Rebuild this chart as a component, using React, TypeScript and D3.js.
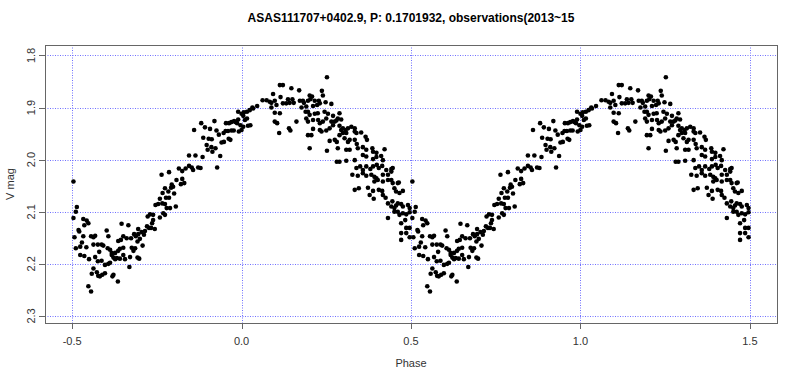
import React from "react";
import * as d3 from "d3";

const TITLE = "ASAS111707+0402.9, P: 0.1701932, observations(2013~15";
const X_LABEL = "Phase";
const Y_LABEL = "V mag";

const xTicks = [-0.5, 0, 0.5, 1, 1.5];
const xTickLabels = ["-0.5", "0.0", "0.5", "1.0", "1.5"];
const yTicks = [1.8, 1.9, 2.0, 2.1, 2.2, 2.3];
const yTickLabels = ["1.8", "1.9", "2.0", "2.1", "2.2", "2.3"];

// one cycle of folded photometry [phase, V mag]; plotted at phase and phase + 1
const observations: [number, number][] = [
  [-0.496, 2.042], [-0.486, 2.091], [-0.489, 2.100], [-0.496, 2.112], [-0.467, 2.114], [-0.457, 2.117],
  [-0.452, 2.122], [-0.464, 2.126], [-0.481, 2.135], [-0.479, 2.138], [-0.493, 2.149], [-0.467, 2.147],
  [-0.444, 2.147], [-0.437, 2.149], [-0.432, 2.146], [-0.471, 2.159], [-0.458, 2.168], [-0.489, 2.170],
  [-0.476, 2.167], [-0.437, 2.163], [-0.424, 2.163], [-0.413, 2.163], [-0.408, 2.165], [-0.476, 2.183],
  [-0.464, 2.185], [-0.450, 2.191], [-0.432, 2.187], [-0.420, 2.177], [-0.398, 2.136], [-0.393, 2.147],
  [-0.395, 2.170], [-0.388, 2.173], [-0.383, 2.179], [-0.424, 2.195], [-0.413, 2.194], [-0.403, 2.202],
  [-0.393, 2.200], [-0.388, 2.198], [-0.437, 2.209], [-0.442, 2.219], [-0.427, 2.216], [-0.423, 2.223],
  [-0.418, 2.224], [-0.411, 2.221], [-0.403, 2.218], [-0.452, 2.243], [-0.444, 2.253], [-0.381, 2.224],
  [-0.378, 2.221], [-0.365, 2.234], [-0.378, 2.188], [-0.373, 2.191], [-0.368, 2.189], [-0.359, 2.190],
  [-0.383, 2.183], [-0.373, 2.179], [-0.364, 2.175], [-0.359, 2.171], [-0.349, 2.169], [-0.364, 2.156],
  [-0.356, 2.154], [-0.339, 2.151], [-0.349, 2.147], [-0.354, 2.123], [-0.334, 2.126], [-0.349, 2.183],
  [-0.344, 2.191], [-0.329, 2.187], [-0.331, 2.206], [-0.324, 2.169], [-0.319, 2.175], [-0.314, 2.170],
  [-0.326, 2.151], [-0.317, 2.143], [-0.312, 2.147], [-0.305, 2.143], [-0.307, 2.157], [-0.300, 2.152],
  [-0.292, 2.165], [-0.307, 2.188], [-0.302, 2.190], [-0.305, 2.133], [-0.295, 2.139], [-0.285, 2.137],
  [-0.288, 2.144], [-0.279, 2.128], [-0.273, 2.131], [-0.264, 2.122], [-0.267, 2.131], [-0.256, 2.133],
  [-0.277, 2.109], [-0.270, 2.105], [-0.261, 2.106], [-0.261, 2.116], [-0.254, 2.087], [-0.246, 2.085],
  [-0.234, 2.084], [-0.226, 2.085], [-0.221, 2.093], [-0.211, 2.093], [-0.241, 2.111], [-0.231, 2.103],
  [-0.226, 2.106], [-0.241, 2.075], [-0.233, 2.064], [-0.223, 2.073], [-0.214, 2.073], [-0.226, 2.055],
  [-0.216, 2.061], [-0.206, 2.048], [-0.208, 2.054], [-0.202, 2.052], [-0.199, 2.065], [-0.194, 2.090],
  [-0.192, 2.039], [-0.179, 2.047], [-0.175, 2.037], [-0.169, 2.045],
  [-0.236, 2.029], [-0.214, 2.024], [-0.185, 2.017], [-0.175, 2.022], [-0.165, 2.017], [-0.155, 2.012],
  [-0.147, 2.015], [-0.143, 2.020], [-0.128, 2.015], [-0.121, 2.016], [-0.155, 1.992], [-0.136, 1.992],
  [-0.115, 1.995], [-0.072, 2.015], [-0.063, 1.993], [-0.140, 1.943], [-0.119, 1.930], [-0.108, 1.938],
  [-0.080, 1.926], [-0.093, 1.941], [-0.074, 1.944], [-0.113, 1.958], [-0.097, 1.960], [-0.088, 1.961],
  [-0.067, 1.952], [-0.053, 1.949], [-0.059, 1.967], [-0.052, 1.966], [-0.103, 1.972], [-0.089, 1.976],
  [-0.077, 1.978], [-0.100, 1.981], [-0.086, 1.985], [-0.046, 1.930], [-0.037, 1.930], [-0.030, 1.928],
  [-0.022, 1.926], [-0.018, 1.928], [-0.047, 1.945], [-0.040, 1.945], [-0.030, 1.944], [-0.023, 1.944],
  [-0.038, 1.960], [-0.033, 1.962], [-0.010, 1.908], [0.000, 1.912], [0.005, 1.916], [-0.013, 1.930],
  [-0.003, 1.934], [-0.008, 1.946], [0.000, 1.943], [-0.010, 1.923],
  [0.252, 1.842], [0.113, 1.857], [0.122, 1.857], [0.147, 1.863], [0.170, 1.867], [0.237, 1.868],
  [0.093, 1.874], [0.062, 1.886], [0.074, 1.886], [0.083, 1.889], [0.088, 1.891], [0.098, 1.887],
  [0.115, 1.880], [0.137, 1.884], [0.150, 1.884], [0.201, 1.877], [0.208, 1.879], [0.240, 1.877],
  [0.122, 1.892], [0.132, 1.892], [0.142, 1.891], [0.154, 1.891], [0.172, 1.887], [0.181, 1.887],
  [0.184, 1.891], [0.196, 1.887], [0.203, 1.884], [0.216, 1.887], [0.228, 1.887], [0.248, 1.890],
  [0.265, 1.893], [0.046, 1.897], [0.032, 1.900], [0.088, 1.900], [0.103, 1.895], [0.177, 1.900],
  [0.191, 1.898], [0.211, 1.897], [0.223, 1.895], [0.231, 1.892], [0.007, 1.909], [0.016, 1.908],
  [0.024, 1.905], [0.034, 1.902], [0.010, 1.924], [0.016, 1.921], [0.005, 1.937], [0.019, 1.935],
  [0.026, 1.934], [0.098, 1.910], [0.113, 1.911], [0.189, 1.908], [0.196, 1.908], [0.201, 1.914],
  [0.216, 1.912], [0.225, 1.911], [0.245, 1.908], [0.255, 1.912], [0.270, 1.916], [0.289, 1.911],
  [0.098, 1.927], [0.105, 1.930], [0.162, 1.927], [0.191, 1.921], [0.196, 1.927], [0.211, 1.924],
  [0.226, 1.924], [0.231, 1.930], [0.240, 1.927], [0.250, 1.921], [0.265, 1.927], [0.275, 1.927],
  [0.280, 1.925], [0.284, 1.921], [0.294, 1.923], [0.140, 1.940], [0.144, 1.944], [0.111, 1.949],
  [0.211, 1.941], [0.231, 1.943], [0.236, 1.946], [0.250, 1.944], [0.260, 1.940], [0.270, 1.934],
  [0.289, 1.935], [0.294, 1.943], [0.299, 1.940], [0.307, 1.943], [0.314, 1.940], [0.324, 1.937],
  [0.334, 1.940], [0.196, 1.953], [0.206, 1.953], [0.260, 1.964], [0.275, 1.962], [0.281, 1.966],
  [0.289, 1.953], [0.299, 1.949], [0.309, 1.949], [0.304, 1.959], [0.314, 1.966], [0.319, 1.962],
  [0.334, 1.946], [0.339, 1.949], [0.353, 1.948], [0.366, 1.956], [0.370, 1.962], [0.334, 1.962],
  [0.340, 1.970], [0.343, 1.978], [0.201, 1.978], [0.252, 1.983], [0.284, 1.978], [0.309, 1.981],
  [0.319, 1.981], [0.358, 1.976], [0.368, 1.981], [0.386, 1.978], [0.388, 1.985], [0.398, 1.987],
  [0.422, 1.980], [0.358, 1.991], [0.368, 1.994], [0.388, 1.999], [0.398, 1.995], [0.412, 1.993],
  [0.417, 2.001], [0.281, 2.004], [0.289, 2.004], [0.309, 2.002], [0.334, 2.001], [0.339, 2.016],
  [0.350, 2.013], [0.358, 2.020], [0.368, 2.013], [0.380, 2.018], [0.388, 2.013], [0.399, 2.010],
  [0.405, 2.016], [0.415, 2.012], [0.427, 2.020], [0.442, 2.018], [0.446, 2.016], [0.327, 2.029],
  [0.343, 2.031], [0.358, 2.026], [0.368, 2.031], [0.383, 2.029], [0.392, 2.033], [0.398, 2.036],
  [0.417, 2.029], [0.432, 2.029], [0.442, 2.023], [0.392, 2.042], [0.402, 2.039], [0.417, 2.042],
  [0.432, 2.039], [0.442, 2.039], [0.464, 2.044],
  [0.334, 2.058], [0.346, 2.055], [0.373, 2.054], [0.388, 2.060], [0.378, 2.068], [0.390, 2.075],
  [0.405, 2.058], [0.415, 2.060], [0.417, 2.068], [0.425, 2.073], [0.446, 2.045], [0.461, 2.045],
  [0.476, 2.060], [0.451, 2.055], [0.456, 2.061], [0.466, 2.064], [0.432, 2.084], [0.445, 2.080],
  [0.442, 2.090], [0.451, 2.093], [0.456, 2.088], [0.461, 2.084], [0.471, 2.085], [0.476, 2.090],
  [0.491, 2.087], [0.496, 2.093], [0.432, 2.112], [0.451, 2.100], [0.461, 2.100], [0.466, 2.106],
  [0.476, 2.103], [0.486, 2.105], [0.496, 2.101], [0.471, 2.122], [0.483, 2.116], [0.486, 2.131],
  [0.496, 2.131], [0.471, 2.141], [0.486, 2.141], [0.471, 2.154], [0.496, 2.149],
];

const W = 800;
const H = 381;
const box = { left: 45, right: 777, top: 45, bottom: 323 };

export default function App() {
  const x = d3.scaleLinear().domain([-0.58, 1.58]).range([box.left, box.right]);
  const y = d3.scaleLinear().domain([1.78, 2.3135]).range([box.top, box.bottom]);

  const pts = observations.flatMap(([p, m]) => [
    [p, m],
    [p + 1, m],
  ]);

  const axisColor = "#666";
  const textColor = "#333";
  const gridColor = "#7070ff";
  const font = "Liberation Sans, Arial, sans-serif";

  return (
    <svg
      width={W}
      height={H}
      viewBox={`0 0 ${W} ${H}`}
      style={{ position: "absolute", left: 0, top: 0, background: "#fff" }}
    >
      <rect x={0} y={0} width={W} height={H} fill="#fff" />
      {/* grid */}
      {xTicks.map((t) => (
        <line
          key={"gx" + t}
          x1={Math.round(x(t)) + 0.5}
          x2={Math.round(x(t)) + 0.5}
          y1={box.top}
          y2={box.bottom}
          stroke={gridColor}
          strokeWidth={1}
          strokeDasharray="1 1.5"
        />
      ))}
      {yTicks.map((t) => (
        <line
          key={"gy" + t}
          x1={box.left}
          x2={box.right}
          y1={Math.round(y(t)) + 0.5}
          y2={Math.round(y(t)) + 0.5}
          stroke={gridColor}
          strokeWidth={1}
          strokeDasharray="1 1.5"
        />
      ))}
      {/* points */}
      {pts.map(([p, m], i) => (
        <circle key={i} cx={x(p)} cy={y(m)} r={2.3} fill="#000" />
      ))}
      {/* box */}
      <rect
        x={box.left + 0.5}
        y={box.top + 0.5}
        width={box.right - box.left}
        height={box.bottom - box.top}
        fill="none"
        stroke={axisColor}
        strokeWidth={1}
      />
      {/* x axis */}
      {xTicks.map((t, i) => (
        <g key={"xt" + t}>
          <line
            x1={Math.round(x(t)) + 0.5}
            x2={Math.round(x(t)) + 0.5}
            y1={box.bottom}
            y2={box.bottom + 6}
            stroke={axisColor}
          />
          <text
            x={x(t)}
            y={box.bottom + 22}
            textAnchor="middle"
            fontFamily={font}
            fontSize={11}
            fill={textColor}
          >
            {xTickLabels[i]}
          </text>
        </g>
      ))}
      {/* y axis */}
      {yTicks.map((t, i) => (
        <g key={"yt" + t}>
          <line
            x1={box.left - 6}
            x2={box.left}
            y1={Math.round(y(t)) + 0.5}
            y2={Math.round(y(t)) + 0.5}
            stroke={axisColor}
          />
          <text
            transform={`translate(${box.left - 10},${y(t)}) rotate(-90)`}
            textAnchor="middle"
            fontFamily={font}
            fontSize={11}
            fill={textColor}
          >
            {yTickLabels[i]}
          </text>
        </g>
      ))}
      <text
        x={(box.left + box.right) / 2}
        y={367}
        textAnchor="middle"
        fontFamily={font}
        fontSize={11}
        fill={textColor}
      >
        {X_LABEL}
      </text>
      <text
        transform={`translate(14,${(box.top + box.bottom) / 2}) rotate(-90)`}
        textAnchor="middle"
        fontFamily={font}
        fontSize={11}
        fill={textColor}
      >
        {Y_LABEL}
      </text>
      <text
        x={(box.left + box.right) / 2}
        y={22}
        textAnchor="middle"
        fontFamily={font}
        fontSize={12}
        fontWeight="bold"
        fill="#000"
      >
        {TITLE}
      </text>
    </svg>
  );
}
